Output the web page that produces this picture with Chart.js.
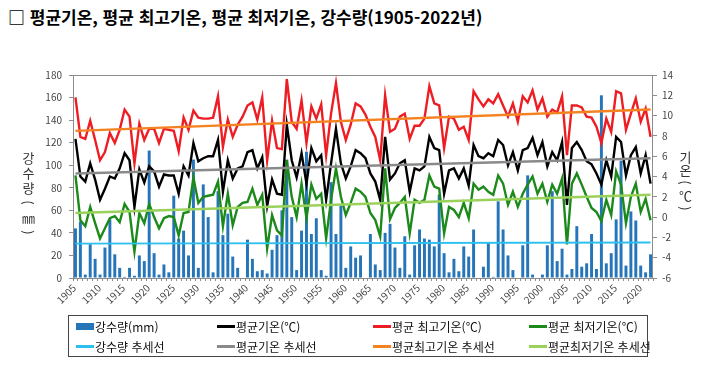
<!DOCTYPE html>
<html lang="ko">
<head>
<meta charset="UTF-8">
<title>평균기온, 평균 최고기온, 평균 최저기온, 강수량</title>
<script src="https://cdn.jsdelivr.net/npm/chart.js"></script>
<style>
    body { margin: 0; background: #fff; width: 703px; height: 366px; overflow: hidden; position: relative;
           font-family: 'Noto Sans CJK KR', 'Noto Sans', sans-serif; }
    #chart { position: absolute; left: 0; top: 0; }
    .title { position: absolute; left: 8px; top: 4px; font-size: 17px; font-weight: 700; color: #000; white-space: nowrap; }
    .axis-title { position: absolute; display: flex; flex-direction: column; align-items: center;
                  color: #333; font-size: 13px; line-height: 15px; }
    .axis-title .rot { display: inline-block; transform: rotate(90deg); }
    .year { position: absolute; width: 0; height: 0; }
    .year span { position: absolute; right: 0; top: -6px; line-height: 12px; font-size: 10px; color: #444;
                 white-space: nowrap; transform-origin: right center; transform: rotate(-45deg); }
    .legend { position: absolute; left: 68px; top: 315px; width: 580px; height: 42px; border: 1px solid #444;
              box-sizing: border-box; display: grid; grid-template-columns: 141px 156px 156px 1fr;
              padding: 1px 0 0 7px; font-size: 12px; color: #111; }
    .legend-item { display: flex; align-items: center; height: 19px; white-space: nowrap; }
    .swatch { width: 18px; margin-right: 1px; }
</style>
</head>
<body>
<div class="title">□ 평균기온, 평균 최고기온, 평균 최저기온, 강수량(1905-2022년)</div>
<canvas id="chart" width="703" height="366"></canvas>
<div class="axis-title" style="left: 22px; top: 150px;">
    <span>강</span><span>수</span><span>량</span><span class="rot">(</span><span>㎜</span><span class="rot">)</span>
</div>
<div class="axis-title" style="left: 679px; top: 150px; line-height: 13px;">
    <span>기</span><span>온</span><span class="rot">(</span><span>℃</span><span class="rot">)</span>
</div>
<div id="yearAxis"></div>
<div class="legend" id="legend"></div>

<script>
    // 연도 (1905-2022)
    const years = [
        '1905','1906','1907','1908','1909','1910','1911','1912','1913','1914',
        '1915','1916','1917','1918','1919','1920','1921','1922','1923','1924',
        '1925','1926','1927','1928','1929','1930','1931','1932','1933','1934',
        '1935','1936','1937','1938','1939','1940','1941','1942','1943','1944',
        '1945','1946','1947','1948','1949','1950','1951','1952','1953','1954',
        '1955','1956','1957','1958','1959','1960','1961','1962','1963','1964',
        '1965','1966','1967','1968','1969','1970','1971','1972','1973','1974',
        '1975','1976','1977','1978','1979','1980','1981','1982','1983','1984',
        '1985','1986','1987','1988','1989','1990','1991','1992','1993','1994',
        '1995','1996','1997','1998','1999','2000','2001','2002','2003','2004',
        '2005','2006','2007','2008','2009','2010','2011','2012','2013','2014',
        '2015','2016','2017','2018','2019','2020','2021','2022'
    ];

    // 강수량 (mm)
    const rain = [
        44, 50, 3, 30, 17, 3, 27, 52, 21, 9,
        1, 9, 2, 20, 15, 113, 22, 3, 12, 5,
        73, 35, 42, 20, 105, 9, 83, 54, 5, 77,
        38, 57, 19, 9, 0, 34, 17, 6, 7, 4,
        25, 38, 60, 105, 54, 7, 42, 112, 39, 53,
        7, 2, 85, 39, 64, 9, 28, 18, 20, 0,
        39, 12, 7, 40, 48, 27, 9, 37, 3, 29,
        43, 35, 34, 28, 74, 22, 5, 17, 6, 28,
        19, 43, 0, 10, 31, 1, 68, 43, 20, 7,
        0, 29, 91, 3, 0, 3, 29, 77, 15, 26,
        3, 8, 46, 10, 13, 39, 8, 162, 13, 22,
        52, 104, 11, 59, 51, 11, 5, 21
    ];

    // 평균기온 (℃)
    const tempMean = [
        7.7, 4.0, 3.5, 5.3, 3.7, 1.7, 2.8, 4.0, 3.8, 4.8,
        6.3, 5.6, 1.0, 4.7, 3.4, 5.0, 4.5, 3.0, 4.2, 4.1,
        4.1, 2.3, 5.0, 4.1, 7.3, 5.5, 5.8, 6.0, 6.0, 7.6,
        2.5, 5.6, 3.8, 4.8, 5.0, 6.4, 6.6, 4.8, 5.9, 1.1,
        3.7, 2.3, 2.2, 9.1, 5.6, 3.9, 6.3, 3.3, 6.8, 5.5,
        6.1, 1.7, 5.3, 8.7, 5.3, 3.8, 5.0, 6.6, 6.3, 5.8,
        4.3, 3.5, 1.7, 7.9, 3.7, 4.3, 5.3, 5.6, 2.5, 4.8,
        4.6, 5.0, 7.9, 6.8, 6.6, 2.3, 4.6, 4.8, 3.8, 4.8,
        3.1, 7.1, 6.0, 5.8, 6.3, 6.0, 7.6, 7.1, 5.1, 6.4,
        4.6, 6.6, 6.8, 7.8, 6.1, 7.4, 5.0, 6.4, 5.6, 7.4,
        1.2, 6.8, 7.4, 6.6, 5.5, 5.2, 4.3, 3.2, 5.6, 4.0,
        7.9, 7.4, 4.1, 6.1, 6.9, 4.3, 6.1, 3.3
    ];

    // 평균 최고기온 (℃)
    const tempMax = [
        11.8, 7.9, 7.7, 9.5, 7.6, 5.6, 6.4, 8.3, 7.3, 8.6,
        10.6, 9.9, 5.3, 9.2, 7.6, 8.7, 8.7, 7.3, 8.7, 8.6,
        8.5, 6.5, 9.8, 8.6, 10.5, 9.8, 9.7, 9.7, 9.8, 11.9,
        6.9, 9.6, 7.9, 9.1, 9.9, 11.0, 11.3, 9.6, 11.8, 5.6,
        9.5, 6.8, 6.7, 13.6, 9.4, 8.7, 11.5, 7.3, 10.9, 9.7,
        11.1, 6.1, 10.2, 13.2, 9.4, 7.6, 9.1, 11.2, 10.9, 10.1,
        8.9, 7.9, 5.6, 12.0, 8.4, 8.7, 9.9, 10.2, 7.7, 9.0,
        9.0, 9.7, 12.9, 11.2, 11.0, 6.8, 9.9, 9.7, 8.6, 8.9,
        7.6, 12.4, 11.6, 10.9, 11.6, 11.2, 12.1, 11.0, 9.9, 11.2,
        9.4, 11.9, 11.3, 12.5, 10.6, 11.7, 9.9, 10.6, 10.3, 11.9,
        6.1, 11.0, 11.0, 10.8, 9.9, 9.8, 8.9, 7.3, 9.7, 8.4,
        12.4, 12.2, 8.6, 10.2, 11.7, 9.4, 10.7, 7.9
    ];

    // 평균 최저기온 (℃)
    const tempMin = [
        4.1, -0.3, -0.9, 1.0, -0.6, -2.1, -1.1, -0.1, 0.1, -0.5,
        1.3, 0.5, -3.4, 0.4, -0.6, 1.3, 0.0, -1.1, -0.1, 0.1,
        0.0, -1.8, 0.4, 0.5, 3.9, 1.4, 2.0, 2.1, 2.2, 3.5,
        -0.9, 2.3, -0.8, 1.0, 1.4, 1.5, 2.8, 1.2, 2.2, -3.1,
        0.2, -1.3, -1.8, 5.6, 2.0, 0.0, 3.3, -0.1, 3.2, 1.8,
        2.3, -2.1, 1.7, 4.8, 2.0, 0.2, 1.4, 2.8, 2.5, 2.0,
        0.4, -0.3, -1.9, 4.8, -0.2, 0.9, 1.4, 2.0, -1.6, 1.7,
        1.4, 1.7, 4.1, 3.0, 2.8, -1.6, 1.0, 0.7, 0.0, 1.4,
        -0.1, 3.3, 2.7, 3.0, 2.5, 2.2, 4.1, 3.3, 1.2, 2.5,
        1.0, 2.3, 3.2, 4.0, 2.3, 3.3, 1.5, 3.2, 2.3, 3.8,
        -2.7, 3.3, 4.3, 3.2, 2.0, 0.9, 0.5, -0.4, 1.7, 0.2,
        4.5, 3.2, -0.6, 2.0, 3.3, 0.5, 1.8, -0.3
    ];

    // 추세선 양 끝값 [1905, 2022]
    const rainTrend = [30.5, 31.5];
    const meanTrend = [4.3, 5.8];
    const maxTrend = [8.5, 10.6];
    const minTrend = [0.4, 2.2];

    const trendPoints = (ends) => [
        { x: years[0], y: ends[0] },
        { x: years[years.length - 1], y: ends[1] }
    ];

    // 플롯 테두리
    const frame = {
        id: 'frame',
        beforeDatasetsDraw(chart) {
            const a = chart.chartArea, c = chart.ctx;
            c.save();
            c.strokeStyle = '#8c8c8c';
            c.lineWidth = 1;
            c.strokeRect(a.left + 0.5, a.top + 0.5, a.right - a.left - 1, a.bottom - a.top);
            c.restore();
        }
    };

    const tickFont = { family: "'Noto Sans CJK KR', sans-serif", size: 10 };

    const chart = new Chart(document.getElementById('chart'), {
        data: {
            labels: years,
            datasets: [
                { type: 'bar', label: '강수량(mm)', data: rain, yAxisID: 'y',
                  backgroundColor: '#2675b8', barPercentage: 0.6, categoryPercentage: 1, order: 10 },
                { type: 'line', label: '평균기온(℃)', data: tempMean, yAxisID: 'y1',
                  borderColor: '#000000', borderWidth: 2.4, pointRadius: 0, order: 5 },
                { type: 'line', label: '평균 최고기온(℃)', data: tempMax, yAxisID: 'y1',
                  borderColor: '#ee1d23', borderWidth: 2.4, pointRadius: 0, order: 6 },
                { type: 'line', label: '평균 최저기온(℃)', data: tempMin, yAxisID: 'y1',
                  borderColor: '#1b8a1b', borderWidth: 2.4, pointRadius: 0, order: 6 },
                { type: 'line', label: '강수량 추세선', data: trendPoints(rainTrend), yAxisID: 'y',
                  borderColor: '#2cc0ee', borderWidth: 1.8, pointRadius: 0, order: 1 },
                { type: 'line', label: '평균기온 추세선', data: trendPoints(meanTrend), yAxisID: 'y1',
                  borderColor: '#8a8a8a', borderWidth: 2.4, pointRadius: 0, order: 1 },
                { type: 'line', label: '평균최고기온 추세선', data: trendPoints(maxTrend), yAxisID: 'y1',
                  borderColor: '#f58220', borderWidth: 2.4, pointRadius: 0, order: 1 },
                { type: 'line', label: '평균최저기온 추세선', data: trendPoints(minTrend), yAxisID: 'y1',
                  borderColor: '#9ad15a', borderWidth: 2.4, pointRadius: 0, order: 1 }
            ]
        },
        options: {
            responsive: false,
            devicePixelRatio: 1,
            animation: false,
            layout: { padding: { top: 75, bottom: 56, left: 0, right: 0 } },
            plugins: { legend: { display: false }, tooltip: { enabled: false } },
            scales: {
                x: {
                    type: 'category',
                    offset: true,
                    grid: { display: true, drawOnChartArea: false, drawTicks: true, tickLength: 3, color: '#8c8c8c' },
                    border: { display: false },
                    ticks: { display: false },
                    afterFit: (s) => { s.height = 32; }
                },
                y: {
                    position: 'left', min: 0, max: 180,
                    grid: { display: true, drawOnChartArea: false, tickLength: 4, color: '#8c8c8c' },
                    border: { display: false },
                    ticks: { stepSize: 20, color: '#444', font: tickFont, padding: 7 },
                    afterFit: (s) => { s.width = 73; }
                },
                y1: {
                    position: 'right', min: -6, max: 14,
                    grid: { display: true, drawOnChartArea: false, tickLength: 4, color: '#8c8c8c' },
                    border: { display: false },
                    ticks: { stepSize: 2, color: '#444', font: tickFont, padding: 5 },
                    afterFit: (s) => { s.width = 50; }
                }
            }
        },
        plugins: [frame]
    });

    // 5년 간격 연도 라벨 (45도 기울임, x축 눈금 위치에 맞춤)
    const xs = chart.scales.x;
    const yearAxis = document.getElementById('yearAxis');
    years.forEach((yr, i) => {
        if (Number(yr) % 5 !== 0) return;
        const anchor = document.createElement('div');
        anchor.className = 'year';
        anchor.style.left = (xs.getPixelForValue(i) - 1) + 'px';
        anchor.style.top = (xs.top + 8) + 'px';
        const span = document.createElement('span');
        span.textContent = yr;
        anchor.appendChild(span);
        yearAxis.appendChild(anchor);
    });

    // HTML 범례 (4열 2행)
    const legendEl = document.getElementById('legend');
    chart.data.datasets.forEach((ds) => {
        const item = document.createElement('div');
        item.className = 'legend-item';
        const sw = document.createElement('span');
        sw.className = 'swatch';
        if (ds.type === 'bar') {
            sw.style.height = '7px';
            sw.style.background = ds.backgroundColor;
        } else {
            sw.style.height = '3px';
            sw.style.background = ds.borderColor;
        }
        item.appendChild(sw);
        item.appendChild(document.createTextNode(ds.label));
        legendEl.appendChild(item);
    });
</script>
</body>
</html>
